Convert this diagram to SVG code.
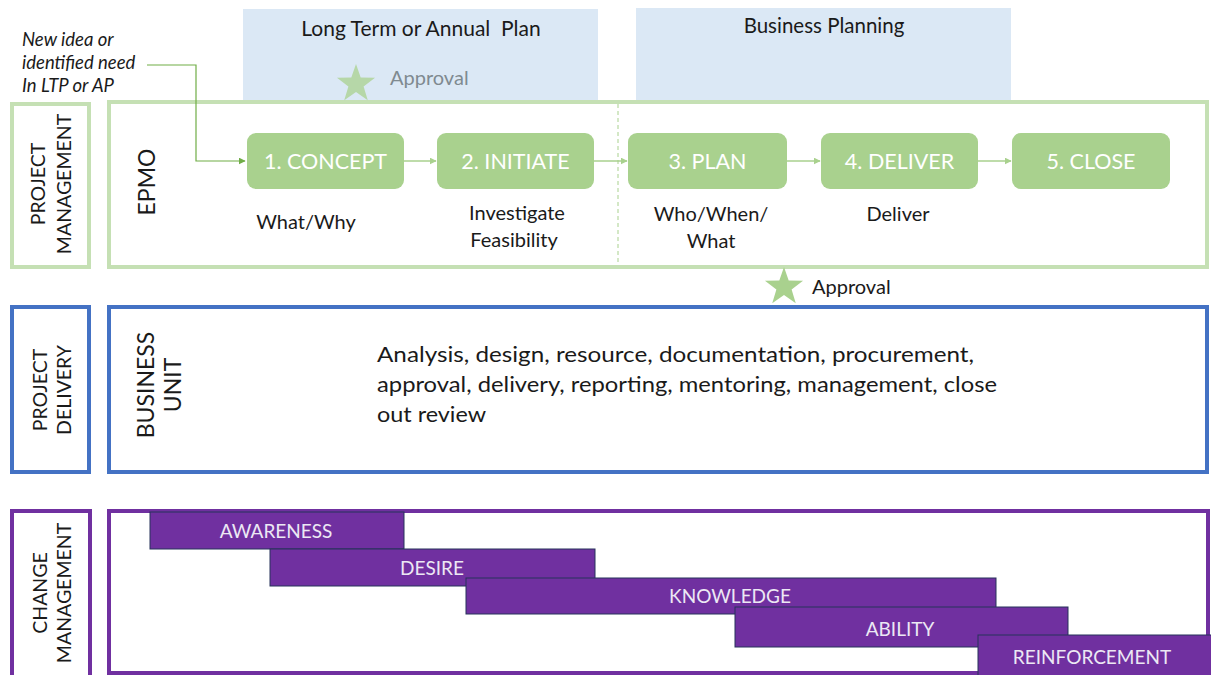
<svg xmlns="http://www.w3.org/2000/svg" width="1211" height="675" viewBox="0 0 1211 675">
  <style>
    text { font-family: Lato, "Open Sans", "Liberation Sans", sans-serif; fill: #1a1a1a; }
    .plan { fill: #dbe8f5; }
    .pm { fill: #ffffff; stroke: #c5e0b4; stroke-width: 4; }
    .pd { fill: #ffffff; stroke: #4472c4; stroke-width: 4; }
    .cm { fill: #ffffff; stroke: #7030a0; stroke-width: 4; }
    .step rect { fill: #a9d18e; }
    .step text { fill: #ffffff; font-size: 21.5px; text-anchor: middle; }
    .side { font-size: 19.5px; text-anchor: middle; }
    .unit { font-size: 23px; text-anchor: middle; }
    .note { font-size: 20px; text-anchor: middle; }
    .body { font-size: 22px; }
    .intake { font-size: 18.5px; font-style: italic; }
    .bar rect { fill: #7030a0; stroke: #26325a; stroke-width: 1; }
    .bar text { fill: #ece8f4; font-size: 19px; text-anchor: middle; }
    .flow { stroke: #a9d18e; stroke-width: 1.5; fill: none; }
  </style>
  <defs>
    <marker id="tip" viewBox="0 0 10 10" refX="9" refY="5" markerWidth="7" markerHeight="7" orient="auto" markerUnits="userSpaceOnUse">
      <path d="M0,0 L10,5 L0,10 z" fill="#a9d18e"/>
    </marker>
    <marker id="tipDark" viewBox="0 0 10 10" refX="9" refY="5" markerWidth="7" markerHeight="7" orient="auto" markerUnits="userSpaceOnUse">
      <path d="M0,0 L10,5 L0,10 z" fill="#70ad47"/>
    </marker>
    <polygon id="star" points="0,-20 4.70,-6.47 19.02,-6.18 7.61,2.47 11.76,16.18 0,8 -11.76,16.18 -7.61,2.47 -19.02,-6.18 -4.70,-6.47"/>
  </defs>

  <!-- planning horizons -->
  <g id="plan-ltp">
    <rect class="plan" x="243" y="9" width="355" height="92"/>
    <text x="421" y="36" font-size="21" text-anchor="middle" style="white-space:pre">Long Term or Annual  Plan</text>
  </g>
  <g id="plan-business">
    <rect class="plan" x="636" y="8" width="375" height="92"/>
    <text x="824" y="33" font-size="20.5" text-anchor="middle">Business Planning</text>
  </g>

  <!-- project management lane -->
  <g id="lane-pm">
    <rect class="pm" x="12" y="104" width="77" height="163"/>
    <text class="side" transform="translate(38,184) rotate(-90)" dy="7">PROJECT</text>
    <text class="side" transform="translate(64,184) rotate(-90)" dy="7">MANAGEMENT</text>
  </g>
  <g id="epmo">
    <rect class="pm" x="109" y="102" width="1098" height="165"/>
    <text class="unit" transform="translate(147,182) rotate(-90)" dy="8">EPMO</text>
    <line x1="618" y1="104" x2="618" y2="265" stroke="#a9d18e" stroke-width="1" stroke-dasharray="4,3"/>
  </g>

  <!-- intake note -->
  <g id="intake">
    <text class="intake" x="22" y="46">New idea or</text>
    <text class="intake" x="22" y="69">identified need</text>
    <text class="intake" x="22" y="92">In LTP or AP</text>
  </g>

  <!-- approval markers -->
  <g id="approval-plan">
    <use href="#star" transform="translate(356,84)" fill="#a9d18e" opacity="0.75"/>
    <text x="390" y="85" font-size="20" style="fill:#7f8a90">Approval</text>
  </g>

  <!-- process steps -->
  <g id="step-concept" class="step">
    <rect x="247" y="133" width="157" height="56" rx="9"/>
    <text x="325.5" y="169">1. CONCEPT</text>
  </g>
  <g id="step-initiate" class="step">
    <rect x="437" y="133" width="157" height="56" rx="9"/>
    <text x="515.5" y="169">2. INITIATE</text>
  </g>
  <g id="step-plan" class="step">
    <rect x="628" y="133" width="159" height="56" rx="9"/>
    <text x="707.5" y="169">3. PLAN</text>
  </g>
  <g id="step-deliver" class="step">
    <rect x="821" y="133" width="157" height="56" rx="9"/>
    <text x="899.5" y="169">4. DELIVER</text>
  </g>
  <g id="step-close" class="step">
    <rect x="1012" y="133" width="158" height="56" rx="9"/>
    <text x="1091" y="169">5. CLOSE</text>
  </g>

  <!-- step descriptions -->
  <g id="step-notes">
    <text class="note" x="306" y="229">What/Why</text>
    <text class="note" x="517" y="220">Investigate</text>
    <text class="note" x="514" y="247">Feasibility</text>
    <text class="note" x="711" y="221">Who/When/</text>
    <text class="note" x="711" y="248">What</text>
    <text class="note" x="898" y="221">Deliver</text>
  </g>

  <!-- connectors -->
  <g id="connectors">
    <polyline points="147,65 196,65 196,161 245,161" fill="none" stroke="#70ad47" stroke-width="1.2" marker-end="url(#tipDark)"/>
    <line class="flow" x1="404" y1="161" x2="436" y2="161" marker-end="url(#tip)"/>
    <line class="flow" x1="594" y1="161" x2="627" y2="161" marker-end="url(#tip)"/>
    <line class="flow" x1="787" y1="161" x2="820" y2="161" marker-end="url(#tip)"/>
    <line class="flow" x1="978" y1="161" x2="1011" y2="161" marker-end="url(#tip)"/>
  </g>

  <!-- project delivery lane -->
  <g id="lane-pd">
    <rect class="pd" x="12" y="307" width="77" height="165"/>
    <text class="side" transform="translate(40,390) rotate(-90)" dy="7">PROJECT</text>
    <text class="side" transform="translate(64,390) rotate(-90)" dy="7">DELIVERY</text>
  </g>
  <g id="business-unit">
    <rect class="pd" x="109" y="307" width="1098" height="165"/>
    <text class="unit" transform="translate(146,385) rotate(-90)" dy="8">BUSINESS</text>
    <text class="unit" transform="translate(173,385) rotate(-90)" dy="8">UNIT</text>
    <text class="body" x="377" y="362" textLength="597" lengthAdjust="spacingAndGlyphs">Analysis, design, resource, documentation, procurement,</text>
    <text class="body" x="377" y="392" textLength="620" lengthAdjust="spacingAndGlyphs">approval, delivery, reporting, mentoring, management, close</text>
    <text class="body" x="377" y="422" textLength="109" lengthAdjust="spacingAndGlyphs">out review</text>
  </g>

  <g id="approval-delivery">
    <use href="#star" transform="translate(784,287)" fill="#a9d18e"/>
    <text x="812" y="294" font-size="20">Approval</text>
  </g>

  <!-- change management lane -->
  <g id="lane-cm">
    <rect class="cm" x="12" y="511" width="78" height="166"/>
    <text class="side" transform="translate(40,593) rotate(-90)" dy="7">CHANGE</text>
    <text class="side" transform="translate(64,593) rotate(-90)" dy="7">MANAGEMENT</text>
  </g>
  <g id="change-area">
    <rect class="cm" x="109" y="511" width="1099" height="162"/>
  </g>
  <g id="bar-awareness" class="bar">
    <rect x="150" y="512" width="254" height="37"/>
    <text x="276" y="538">AWARENESS</text>
  </g>
  <g id="bar-desire" class="bar">
    <rect x="270" y="549" width="325" height="37"/>
    <text x="432" y="575">DESIRE</text>
  </g>
  <g id="bar-knowledge" class="bar">
    <rect x="466" y="578" width="530" height="36"/>
    <text x="730" y="603">KNOWLEDGE</text>
  </g>
  <g id="bar-ability" class="bar">
    <rect x="735" y="607" width="333" height="40"/>
    <text x="900" y="636">ABILITY</text>
  </g>
  <g id="bar-reinforcement" class="bar">
    <rect x="978" y="635" width="240" height="45"/>
    <text x="1092" y="664">REINFORCEMENT</text>
  </g>
</svg>
